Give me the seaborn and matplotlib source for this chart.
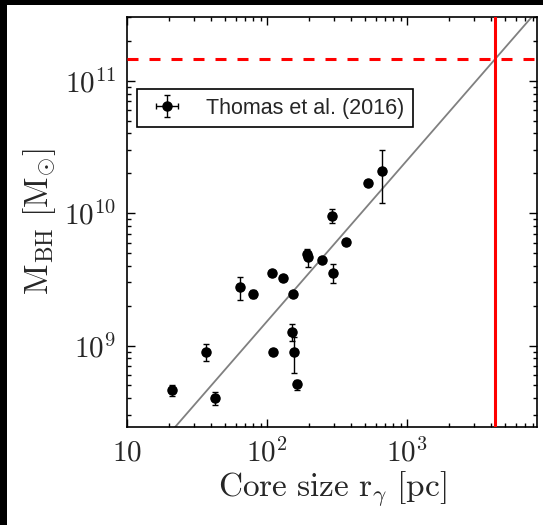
import numpy as np
import pandas as pd
import matplotlib
matplotlib.use("Agg")
import matplotlib.pyplot as plt
import matplotlib.ticker as mticker
from matplotlib.patches import Rectangle
import seaborn as sns

# ---- data ----
core_size_pc = [20.8, 36.7, 42.5, 64.4, 79.4, 109, 111, 130, 152, 153, 157, 164,
                194, 195, 247, 292, 294, 367, 530, 659]
mbh = [4.6e8, 9.0e8, 4.0e8, 2.76e9, 2.47e9, 3.54e9, 9.0e8, 3.24e9, 1.27e9, 2.45e9,
       8.9e8, 5.1e8, 4.9e9, 4.7e9, 4.44e9, 9.5e9, 3.56e9, 6.1e9, 1.68e10, 2.08e10]
mbh_err_lo = [0.4e8, 1.3e8, 0.45e8, 0.55e9, 0.18e9, 0.0, 0.0, 0.0, 0.18e9, 0.0,
              2.7e8, 0.44e8, 0.3e9, 0.75e9, 0.0, 1.05e9, 0.6e9, 0.0, 0.0, 0.89e10]
mbh_err_hi = [0.4e8, 1.2e8, 0.45e8, 0.52e9, 0.18e9, 0.0, 0.0, 0.0, 0.19e9, 0.0,
              2.8e8, 0.44e8, 0.5e9, 0.3e9, 0.0, 1.25e9, 0.55e9, 0.0, 0.0, 0.92e10]
core_err = [0.0] * len(core_size_pc)

fit_slope = 1.215
fit_pivot_r = 4250.0
fit_pivot_m = 1.45e11
fit_r_range = [10.0, 1.0e4]

limit_r = 4250.0
limit_m = 1.45e11

legend_label = "Thomas et al. (2016)"
xtick_vals = [10, 100, 1000]
xtick_labels = [r"$10$", r"$10^{2}$", r"$10^{3}$"]
ytick_vals = [1e9, 1e10, 1e11]
ytick_labels = [r"$10^{9}$", r"$10^{10}$", r"$10^{11}$"]

# ---- style ----
sns.set_style("ticks")
plt.rcParams["mathtext.fontset"] = "cm"
plt.rcParams["font.family"] = ["Liberation Sans", "DejaVu Sans"]

fig = plt.figure(figsize=(5.43, 5.25), dpi=100, facecolor="black")
fig.patches.append(Rectangle((7 / 543, 0), 1 - 7 / 543, 1 - 5 / 525,
                             transform=fig.transFigure, facecolor="white",
                             edgecolor="none", zorder=-10))
ax = fig.add_axes([127 / 543, 1 - 427 / 525, 410 / 543, (427 - 16.7) / 525])
ax.set_facecolor("white")

ax.set_xscale("log")
ax.set_yscale("log")

# fit line
fit_df = pd.DataFrame({"r": fit_r_range})
fit_df["m"] = fit_pivot_m * (fit_df["r"] / fit_pivot_r) ** fit_slope
sns.lineplot(data=fit_df, x="r", y="m", ax=ax, color="#808080", lw=1.3,
             legend=False, zorder=2)

# limits lines
ax.axhline(limit_m, color="red", lw=2.2, ls=(0, (3.6, 3.6)), zorder=3)
ax.axvline(limit_r, color="red", lw=2.2, zorder=3)

# data points
df = pd.DataFrame({"r": core_size_pc, "m": mbh})
ax.errorbar(core_size_pc, mbh, xerr=core_err,
            yerr=[mbh_err_lo, mbh_err_hi], fmt="o", color="black",
            ms=6.5, elinewidth=1.0, capsize=2.5, capthick=1.0,
            label=legend_label, zorder=4)
sns.scatterplot(data=df, x="r", y="m", ax=ax, color="black", s=45,
                edgecolor="black", linewidth=0, zorder=5, legend=False)

ax.set_xlim(10, 8490)
ax.set_ylim(2.43e8, 3.04e11)

ax.xaxis.set_major_locator(mticker.FixedLocator(xtick_vals))
ax.xaxis.set_major_formatter(mticker.FixedFormatter(xtick_labels))
ax.yaxis.set_major_locator(mticker.FixedLocator(ytick_vals))
ax.yaxis.set_major_formatter(mticker.FixedFormatter(ytick_labels))
ax.xaxis.set_minor_locator(mticker.LogLocator(base=10, subs=np.arange(2, 10), numticks=20))
ax.yaxis.set_minor_locator(mticker.LogLocator(base=10, subs=np.arange(2, 10), numticks=20))
ax.xaxis.set_minor_formatter(mticker.NullFormatter())
ax.yaxis.set_minor_formatter(mticker.NullFormatter())

ax.tick_params(which="both", direction="in", top=True, right=True, width=1.0,
               color="black")
ax.tick_params(which="major", length=6, labelsize=21, pad=8)
ax.tick_params(which="minor", length=3)
for s in ax.spines.values():
    s.set_linewidth(1.2)
    s.set_color("black")

ax.set_xlabel(r"$\mathrm{Core\ size\ r_{\gamma}\ [pc]}$", fontsize=24, labelpad=2)
ax.set_ylabel(r"$\mathrm{M_{BH}\ [M_{\odot}]}$", fontsize=24, labelpad=4)

leg = ax.legend(loc="upper left", bbox_to_anchor=(0.0244, 0.824),
                borderaxespad=0, fontsize=15.5, fancybox=False,
                edgecolor="black", framealpha=1, frameon=True)
leg.get_frame().set_linewidth(1.2)

fig.savefig("out.png", dpi=100, facecolor=fig.get_facecolor())
